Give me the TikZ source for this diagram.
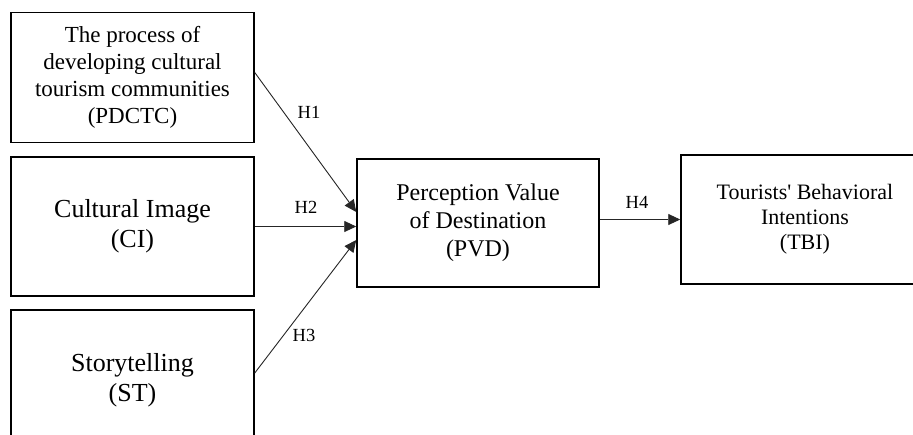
\documentclass[tikz,border=0pt]{standalone}
\usepackage{fontspec}
\setmainfont{Liberation Serif}
\usetikzlibrary{arrows.meta,calc}
\begin{document}
\begin{tikzpicture}[x=1pt,y=-1pt,
  box/.style={draw=black, line width=1.5pt, align=center, inner sep=0pt},
  link/.style={draw=black!85, line width=0.9pt, -{Triangle[length=12pt,width=11pt]}},
  hlab/.style={font=\fontsize{18.5}{20}\selectfont}]
\useasboundingbox (0,0) rectangle (913,434);
\clip (0,0) rectangle (913,434);
\fill[white] (0,0) rectangle (913,434);
\node[box, minimum width=243pt, minimum height=130pt, font=\fontsize{23}{27}\selectfont] (b1) at (132.5,77.5)
  {The process of\\developing cultural\\tourism communities\\(PDCTC)};
\node[box, minimum width=243pt, minimum height=139pt, font=\fontsize{26}{30}\selectfont] (b2) at (132.5,226.5)
  {Cultural Image\\(CI)};
\node[box, minimum width=243pt, minimum height=140pt, font=\fontsize{26}{30}\selectfont] (b3) at (132.5,380)
  {Storytelling\\(ST)};
\node[box, minimum width=242pt, minimum height=128pt, font=\fontsize{24}{28}\selectfont] (pvd) at (478,223)
  {Perception Value\\of Destination\\(PVD)};
\node[box, minimum width=248pt, minimum height=129pt, font=\fontsize{22}{25}\selectfont] (tbi) at (805,219.5)
  {Tourists\textquotesingle\ Behavioral\\Intentions\\(TBI)};
\draw[link] ($(b1.east)+(0,-5)$) -- ($(pvd.west)+(0,-11)$);
\draw[link] (b2.east) -- (b2.east -| pvd.west);
\draw[link] ($(b3.east)+(0,-7)$) -- ($(pvd.west)+(0,17)$);
\draw[link] (tbi.west -| pvd.east) -- (tbi.west);
\node[hlab] (h1) at (309,112) {H1};
\node[hlab] (h2) at (306,207) {H2};
\node[hlab] (h3) at (304,335) {H3};
\node[hlab] (h4) at (637,202) {H4};
\end{tikzpicture}
\end{document}
